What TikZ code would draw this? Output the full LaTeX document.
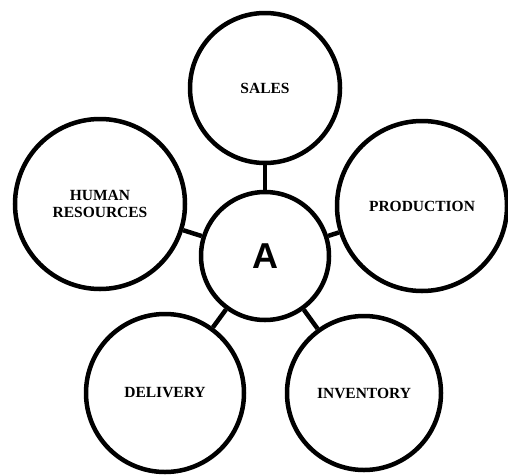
\documentclass[tikz,border=0pt]{standalone}
\usepackage{fontspec}
\setmainfont{Liberation Serif}
\newfontfamily\asans{Liberation Sans}
\begin{document}
\begin{tikzpicture}[x=1pt,y=1pt,
  bub/.style={circle,draw=black,line width=4.5pt,inner sep=0pt,align=center,
    font=\fontsize{15.5}{16.5}\selectfont\bfseries},
  link/.style={line width=4.5pt}]
\useasboundingbox (0,0) rectangle (508,-474);
\node[bub,minimum size=150pt] (sales) at (265,-88) {SALES};
\node[bub,minimum size=170pt] (hr) at (100,-204) {HUMAN\\RESOURCES};
\node[bub,minimum size=170pt] (prod) at (422,-206) {PRODUCTION};
\node[bub,minimum size=128pt,font=\asans\fontsize{36}{36}\selectfont\bfseries] (a) at (265,-256) {A};
\node[bub,minimum size=158pt] (del) at (165,-393) {DELIVERY};
\node[bub,minimum size=154pt] (inv) at (364,-393) {INVENTORY};
\draw[link] (a) -- (sales);
\draw[link] (a) -- (hr);
\draw[link] (a) -- (prod);
\draw[link] (a) -- (del);
\draw[link] (a) -- (inv);
\end{tikzpicture}
\end{document}
